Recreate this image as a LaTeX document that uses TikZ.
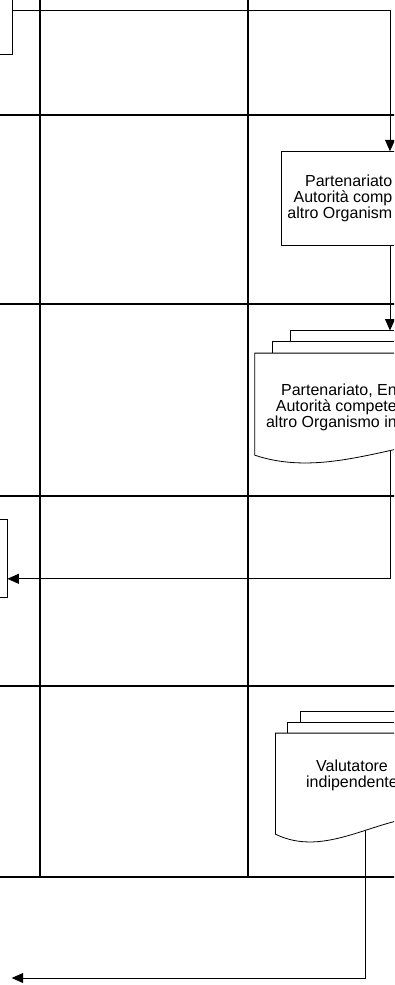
\documentclass[tikz,border=0pt]{standalone}
\usepackage{fontspec}
\setmainfont{Liberation Sans}
\usepackage{tikz}
\usetikzlibrary{arrows.meta,calc}

% stack of three sheets around the front sheet #1, shifted by (#2,#3)
\newcommand{\docstack}[3]{%
  \foreach \k in {2,1}{
    \draw[sheet] ($(#1.north west)+(\k*#2,-\k*#3+#3)$) -- ($(#1.north west)+(\k*#2,-\k*#3)$)
      -- ($(#1.north east)+(\k*#2,-\k*#3)$) -- ($(#1.south east)+(\k*#2,-17.5-\k*#3)$)
      -- ($(#1.south east)+(\k*#2-#2,-17.5-\k*#3)$);
  }
  \draw[sheet, fill=white] (#1.south west) -- (#1.north west) -- (#1.north east)
    -- ($(#1.south east)+(0,-17.5)$)
    .. controls ($(#1.south west)!0.667!(#1.south east)+(0,-16.8)$)
    and ($(#1.south west)!0.333!(#1.south east)+(0,24.5)$) .. (#1.south west) -- cycle;
}

\begin{document}
\begin{tikzpicture}[x=1pt, y=-1pt,
    lane/.style={draw=black, line width=2.2pt},
    box/.style={draw=black, line width=0.8pt, fill=white, inner sep=0pt},
    sheet/.style={draw=black, line width=0.8pt},
    docsheet/.style={draw=none, inner sep=0pt},
    lbl/.style={inner sep=0pt, font=\fontsize{16pt}{16pt}\selectfont},
    flow/.style={draw=black, line width=0.8pt, -{Triangle[length=11.5pt, width=10pt]}}]
  \useasboundingbox (0,0) rectangle (394,985);
  \clip (0,0) rectangle (394,985);
  % swimlanes
  \foreach \y in {115,304,496,686,877}
    \draw[lane] (-5,\y) -- (399,\y);
  \foreach \x in {40,248}
    \draw[lane] (\x,-5) -- (\x,877);
  % boxes and sheets
  \node[box, minimum width=100pt, minimum height=87pt] (prevBox) at (-37.7,10.5) {};
  \node[box, lbl, anchor=west, align=right, inner xsep=6pt, minimum height=94pt] (partBox) at (281,198.7)
    {Partenariato\\Autorità comp\\altro Organism};
  \node[docsheet, minimum width=220pt, minimum height=101.7pt] (docA) at (365,404.15) {};
  \node[box, minimum width=100pt, minimum height=78.7pt] (box2) at (-43,558.3) {};
  \node[docsheet, minimum width=150pt, minimum height=100.7pt] (docB) at (350.7,783.65) {};
  \coordinate (dropA) at (390,0);
  \coordinate (docAback) at ($(docA.north)+(0,-22.6)$);
  \coordinate (exitB) at (11.7,978);
  % connectors
  \draw[flow] (prevBox.east) -| (dropA |- partBox.north);
  \draw[flow] (dropA |- partBox.south) -- (dropA |- docAback);
  \draw[flow] (dropA |- docA.center) |- ($(box2.east)+(0,20.5)$);
  \draw[flow] ($(docB.center)+(15,0)$) |- (exitB);
  % document stacks, drawn over the connectors
  \docstack{docA}{18}{11.3}
  \docstack{docB}{12.3}{10.8}
  \node[lbl, anchor=east, align=right] (docAtext) at (397,407)
    {Partenariato, En\\Autorità compete\\altro Organismo in};
  \node[lbl, align=center] (docBtext) at (352,775) {Valutatore\\indipendente};
\end{tikzpicture}
\end{document}
